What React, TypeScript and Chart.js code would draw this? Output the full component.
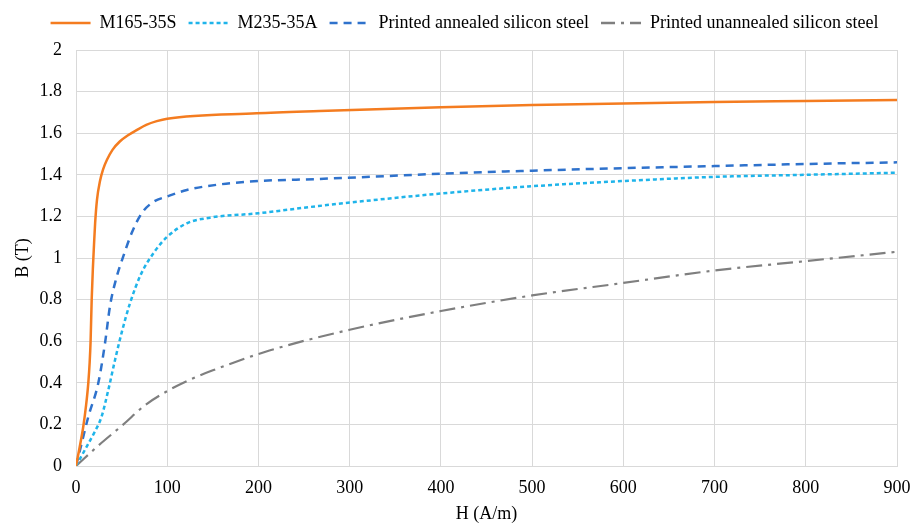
import React, { useEffect, useRef } from "react";
import { Chart, registerables } from "chart.js";

Chart.register(...registerables);

const seriesNames = [
  "M165-35S",
  "M235-35A",
  "Printed annealed silicon steel",
  "Printed unannealed silicon steel",
];

const hM165 = [0, 4, 8, 11, 13.5, 15, 16, 17.2, 18.5, 19.7, 21, 23, 26.3, 30, 33.7, 40, 48, 57, 66.5, 77, 88.5, 100, 198, 267, 400, 500, 600, 700, 800, 900];
const bM165 = [0, 0.09, 0.19, 0.29, 0.4, 0.5, 0.6, 0.8, 0.95, 1.06, 1.17, 1.28, 1.37, 1.43, 1.47, 1.52, 1.56, 1.59, 1.615, 1.64, 1.658, 1.67, 1.696, 1.707, 1.725, 1.735, 1.743, 1.75, 1.755, 1.76];

const hM235 = [0, 11.7, 20, 28, 35.4, 42.8, 50, 59, 71, 86, 99.5, 121.5, 147, 200, 266, 400, 500, 600, 700, 800, 900];
const bM235 = [0, 0.093, 0.16, 0.237, 0.365, 0.51, 0.64, 0.78, 0.92, 1.03, 1.1, 1.167, 1.194, 1.215, 1.25, 1.31, 1.345, 1.37, 1.39, 1.4, 1.41];

const hAnn = [0, 4.4, 13.5, 24.5, 31.8, 37.3, 44, 52, 62, 72, 85, 99.5, 121.5, 158, 200, 266, 400, 500, 600, 700, 800, 900];
const bAnn = [0, 0.077, 0.237, 0.4, 0.59, 0.77, 0.9, 1.01, 1.13, 1.215, 1.27, 1.295, 1.327, 1.354, 1.37, 1.38, 1.405, 1.42, 1.432, 1.442, 1.452, 1.46];

const hUnann = [0, 25, 52, 75, 100, 125, 150, 212, 300, 400, 500, 600, 700, 800, 900];
const bUnann = [0, 0.1, 0.2, 0.29, 0.36, 0.415, 0.46, 0.555, 0.655, 0.745, 0.82, 0.88, 0.94, 0.985, 1.03];

const xTicks = [0, 100, 200, 300, 400, 500, 600, 700, 800, 900];
const yTicks = [0, 0.2, 0.4, 0.6, 0.8, 1, 1.2, 1.4, 1.6, 1.8, 2];

const toPts = (xs: number[], ys: number[]) => xs.map((x, i) => ({ x, y: ys[i] }));

const legendGap = {
  id: "legendGap",
  beforeInit(chart: any) {
    const leg = chart.legend;
    if (!leg) return;
    const origFit = leg.fit;
    leg.fit = function () {
      origFit.call(this);
      this.height += 8;
    };
  },
  afterLayout(chart: any) {
    const leg = chart.legend;
    if (!leg) return;
    leg.left += 14;
    leg.right += 14;
  },
};

export default function App() {
  const ref = useRef<HTMLCanvasElement>(null);
  useEffect(() => {
    document.body.style.margin = "0";
    const font = "'Liberation Serif', 'Times New Roman', serif";
    const chart = new Chart(ref.current!, {
      type: "scatter",
      plugins: [legendGap],
      data: {
        datasets: [
          {
            label: seriesNames[0],
            data: toPts(hM165, bM165),
            borderColor: "#f47c20",
            backgroundColor: "#f47c20",
            borderWidth: 2.5,
            borderDash: [] as number[],
          },
          {
            label: seriesNames[1],
            data: toPts(hM235, bM235),
            borderColor: "#1fb4ea",
            backgroundColor: "#1fb4ea",
            borderWidth: 2.5,
            borderDash: [4, 3],
          },
          {
            label: seriesNames[2],
            data: toPts(hAnn, bAnn),
            borderColor: "#2f72cc",
            backgroundColor: "#2f72cc",
            borderWidth: 2.5,
            borderDash: [8, 6],
          },
          {
            label: seriesNames[3],
            data: toPts(hUnann, bUnann),
            borderColor: "#7f7f7f",
            backgroundColor: "#7f7f7f",
            borderWidth: 2.2,
            borderDash: [16, 6, 3, 6],
          },
        ].map((d) => ({
          ...d,
          showLine: true,
          pointRadius: 0,
          pointHoverRadius: 0,
          cubicInterpolationMode: "monotone" as const,
        })),
      },
      options: {
        animation: false,
        responsive: false,
        maintainAspectRatio: false,
        layout: { padding: { left: 4, right: 19, top: 2, bottom: 0 } },
        plugins: {
          tooltip: { enabled: false },
          legend: {
            position: "top",
            labels: {
              usePointStyle: true,
              pointStyle: "line",
              pointStyleWidth: 40,
              boxHeight: 10,
              padding: 12,
              color: "#000",
              font: { family: font, size: 18 },
              generateLabels: (c: any) => {
                const items = (Chart as any).defaults.plugins.legend.labels.generateLabels(c);
                return items.map((it: any, i: number) => {
                  const ds: any = c.data.datasets[i];
                  return {
                    ...it,
                    pointStyle: "line",
                    strokeStyle: ds.borderColor,
                    fillStyle: ds.borderColor,
                    lineWidth: 2.5,
                    lineDash: i === 3 ? [14, 6, 3, 6] : ds.borderDash,
                  };
                });
              },
            },
          },
        },
        scales: {
          x: {
            type: "linear",
            min: 0,
            max: 900,
            afterBuildTicks: (s: any) => {
              s.ticks = xTicks.map((v) => ({ value: v }));
            },
            afterFit: (s: any) => {
              s.height = 59;
              s.paddingRight = 0;
              s.paddingLeft = 0;
            },
            grid: { color: "#d9d9d9", lineWidth: 1, drawTicks: false },
            border: { color: "#d9d9d9" },
            ticks: {
              color: "#000",
              font: { family: font, size: 18 },
              padding: 11,
              callback: (v: any) => String(v),
            },
            title: {
              display: true,
              text: "H (A/m)",
              color: "#000",
              font: { family: font, size: 18 },
              padding: { top: 0, bottom: 0 },
            },
          },
          y: {
            type: "linear",
            min: 0,
            max: 2,
            afterBuildTicks: (s: any) => {
              s.ticks = yTicks.map((v) => ({ value: v }));
            },
            afterFit: (s: any) => {
              s.width = 72;
            },
            grid: { color: "#d9d9d9", lineWidth: 1, drawTicks: false },
            border: { color: "#d9d9d9" },
            ticks: {
              color: "#000",
              font: { family: font, size: 18 },
              padding: 14,
              callback: (v: any) => String(v),
            },
            title: {
              display: true,
              text: "B (T)",
              color: "#000",
              font: { family: font, size: 18 },
              padding: { top: 8, bottom: 8 },
            },
          },
        },
      },
    });
    return () => chart.destroy();
  }, []);
  return (
    <div style={{ width: 916, height: 525, background: "#fff" }}>
      <canvas ref={ref} width={916} height={525} />
    </div>
  );
}
